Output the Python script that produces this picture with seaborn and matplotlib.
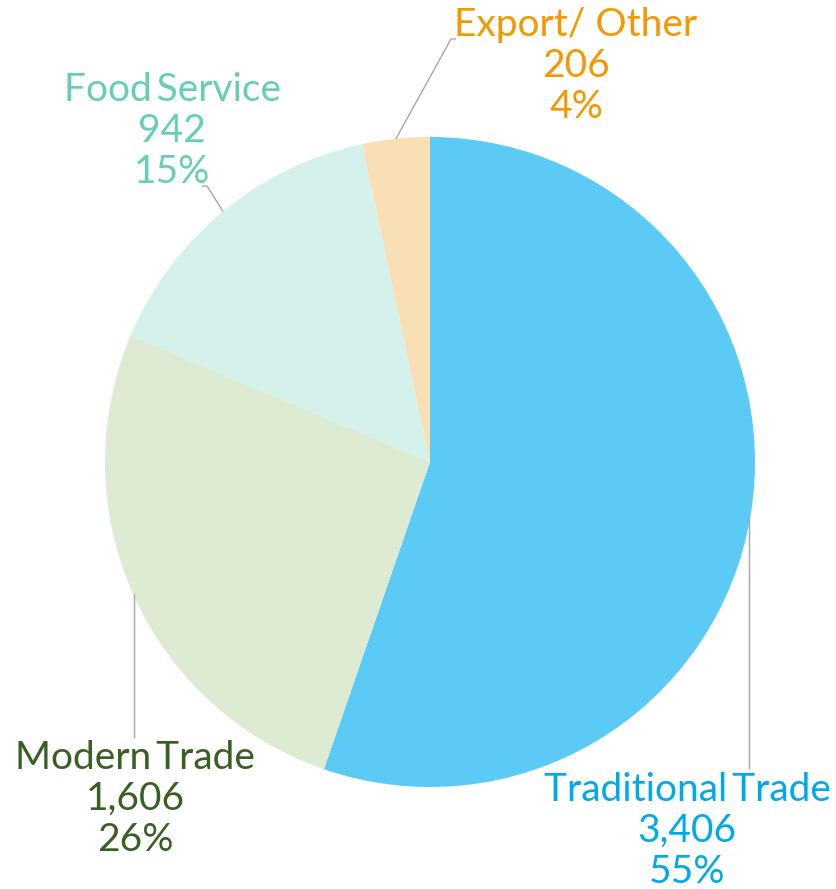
"""Channel share pie — sales volume by trade channel."""
import matplotlib
matplotlib.use("Agg")
import matplotlib.pyplot as plt
import numpy as np
import seaborn as sns

sns.set_theme(style="white")
plt.rcParams["font.family"] = ["Lato", "DejaVu Sans"]

# ---- data ----
channels = ["Traditional Trade", "Modern Trade", "Food Service", "Export / Other"]
values = [3406, 1606, 942, 206]
pct_labels = ["55%", "26%", "15%", "4%"]

wedge_colors = sns.color_palette(["#5BCBF5", "#DDEBD3", "#D4F1EC", "#F8DFB4"])
text_colors = ["#00A9E8", "#3A5F24", "#66CDB6", "#F39800"]
names = ["Traditional\u2009Trade", "Modern\u2009Trade", "Food\u2009Service", "Export/ Other"]

W, H = 836, 889
CX, CY, R = 430, H - 462, 325

fig = plt.figure(figsize=(W / 100, H / 100), dpi=100)
ax = fig.add_axes([0, 0, 1, 1])
ax.set_xlim(0, W); ax.set_ylim(0, H); ax.axis("off")

wedges, _ = ax.pie(values, colors=wedge_colors, startangle=90, counterclock=False,
                   center=(CX, CY), radius=R, wedgeprops=dict(linewidth=0))
ax.set_xlim(0, W); ax.set_ylim(0, H); ax.set_aspect("equal")

# label layout: (text centre x, first-line y in px from top), leader path after the anchor
layout = [
    ((687, 790), [(749, 769)]),
    ((135, 758), [(134, 738)]),
    ((172, 90), [(207, 186), (202, 186)]),
    ((576, 25), [(451, 39), (456, 39)]),
]

for w, name, v, p, tc, ((tx, ty), path) in zip(wedges, names, values, pct_labels, text_colors, layout):
    mid = np.deg2rad((w.theta1 + w.theta2) / 2)
    ax_pt = (CX + R * np.cos(mid), CY + R * np.sin(mid))
    pts = [ax_pt] + [(x, H - y) for x, y in path]
    xs, ys = zip(*pts)
    if len(pts) == 2:
        xs = (xs[1], xs[1])
    ax.plot(xs, ys, color="#A6A6A6", lw=1.0, solid_capstyle="butt")
    for i, line in enumerate([name, f"{v:,}", p]):
        ax.text(tx, H - (ty + i * 41), line, ha="center", va="center",
                fontsize=28, color=tc)

plt.savefig("out.png", dpi=100)
